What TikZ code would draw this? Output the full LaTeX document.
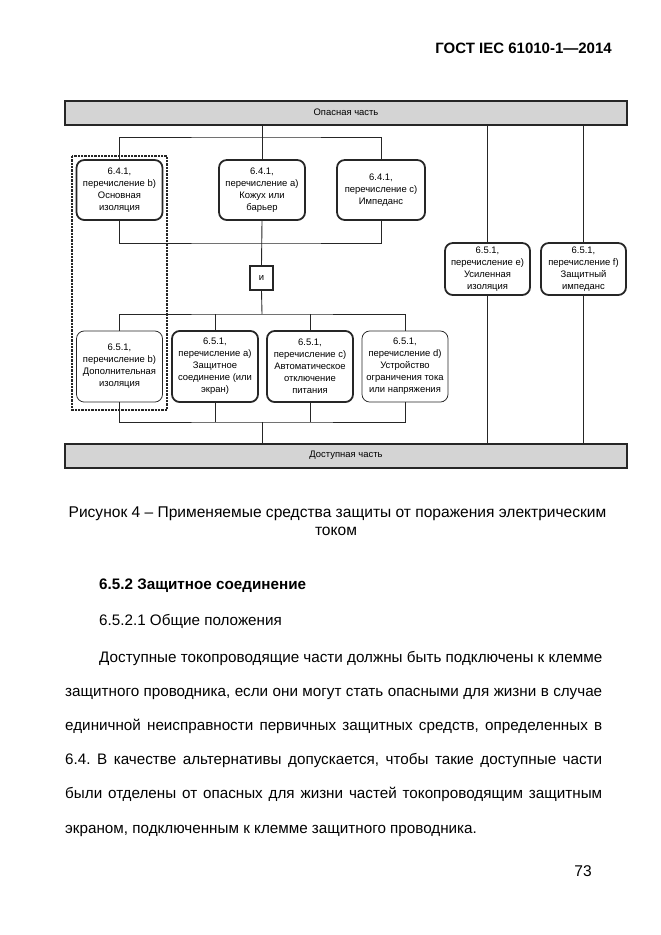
\documentclass[tikz,border=0pt]{standalone}
\usepackage{fontspec}
\setmainfont{Liberation Sans}
\usetikzlibrary{calc}
\frenchspacing

\tikzset{
  part/.style={draw=black!85, line width=1.8pt, fill=black!17, minimum width=505.8pt, minimum height=21.6pt, inner sep=0pt, font=\fontsize{8.5}{10.6}\selectfont},
  means/.style={draw=black!85, line width=1.6pt, fill=white, rounded corners=7pt, align=center, inner xsep=1pt, inner ysep=0pt, font=\fontsize{8.5}{10.8}\selectfont},
  meansthin/.style={means, line width=0.7pt},
  upper/.style={minimum width=77.4pt, minimum height=54pt},
  lower/.style={minimum width=77.4pt, minimum height=64pt},
  side/.style={minimum width=76.5pt, minimum height=46.8pt},
  wire/.style={draw=black!85, line width=0.8pt},
  groupline/.style={draw=black!85, line width=1.8pt, dash pattern=on 2pt off 1pt},
  bodyline/.style={anchor=base west, inner sep=0pt, font=\fontsize{13.7}{16}\selectfont},
}

\begin{document}
\begin{tikzpicture}[x=0.9pt, y=-0.9pt]
\useasboundingbox (0,0) rectangle (661,935);

\node[anchor=base east, inner sep=0pt, font=\fontsize{13.5}{16}\bfseries] (head) at (612,53) {ГОСТ IEC 61010-1—2014};

\node[part] (danger) at (346,112.5) {Опасная часть};
\node[part] (safe) at (346,455.5) {Доступная часть};

\draw[groupline] (72,156) rectangle (167,410);

\node[means, upper] (b641) at (119.5,190) {6.4.1,\\перечисление b)\\Основная\\изоляция};
\node[means, upper] (a641) at (262,190) {6.4.1,\\перечисление a)\\Кожух или\\барьер};
\node[means, upper, minimum width=79.2pt] (c641) at (381,190) {6.4.1,\\перечисление c)\\Импеданс};
\node[draw=black!85, line width=1.2pt, fill=white, minimum width=20.7pt, minimum height=21.6pt, inner sep=0pt, font=\fontsize{8.5}{10.6}\selectfont] (and) at (261.5,278) {и};

\node[meansthin, lower] (b651) at (119.5,366.5) {6.5.1,\\перечисление b)\\Дополнительная\\изоляция};
\node[means, lower] (a651) at (215,366.5) {6.5.1,\\перечисление a)\\Защитное\\соединение (или\\экран)};
\node[means, lower] (c651) at (310,366.5) {6.5.1,\\перечисление c)\\Автоматическое\\отключение\\питания};
\node[meansthin, lower] (d651) at (405,366.5) {6.5.1,\\перечисление d)\\Устройство\\ограничения тока\\или напряжения};

\node[means, side] (e651) at (487.5,269) {6.5.1,\\перечисление e)\\Усиленная\\изоляция};
\node[means, side] (f651) at (583.5,269) {6.5.1,\\перечисление f)\\Защитный\\импеданс};

\coordinate (hubA) at (262,137);
\coordinate (hubB) at (262,243);
\coordinate (hubC) at (262,314);
\coordinate (hubD) at (262,422);

\draw[wire] (danger.south -| a641) -- (a641.north);
\draw[wire] (b641.north) |- (hubA) -| (c641.north);
\draw[wire] (b641.south) |- (hubB) -| (c641.south);
\draw[wire] (a641.south) -- (and.north);
\draw[wire] (and.south) -- (hubC);
\draw[wire] (b651.north) |- (hubC) -| (d651.north);
\draw[wire] (a651.north) -- (a651.north |- hubC);
\draw[wire] (c651.north) -- (c651.north |- hubC);
\draw[wire] (b651.south) |- (hubD) -| (d651.south);
\draw[wire] (a651.south) -- (a651.south |- hubD);
\draw[wire] (c651.south) -- (c651.south |- hubD);
\draw[wire] (hubD) -- (safe.north -| hubD);

\draw[wire] (danger.south -| e651) -- (e651.north);
\draw[wire] (e651.south) -- (safe.north -| e651);
\draw[wire] (danger.south -| f651) -- (f651.north);
\draw[wire] (f651.south) -- (safe.north -| f651);

\node[anchor=base, inner sep=0pt, font=\fontsize{14}{16}\selectfont] (cap1) at (337.5,517) {Рисунок 4 – Применяемые средства защиты от поражения электрическим};
\node[anchor=base, inner sep=0pt, font=\fontsize{14}{16}\selectfont] (cap2) at (336,535) {током};

\node[bodyline, font=\fontsize{13.7}{16}\bfseries] (sec) at (99,589) {6.5.2 Защитное соединение};
\node[bodyline] (subsec) at (99,625) {6.5.2.1 Общие положения};

\node[bodyline] (l1) at (99,662) {\makebox[452.7pt][s]{Доступные токопроводящие части должны быть подключены к клемме}};
\node[bodyline] (l2) at (65,696.2) {\makebox[483.3pt][s]{защитного проводника, если они могут стать опасными для жизни в случае}};
\node[bodyline] (l3) at (65,730.4) {\makebox[483.3pt][s]{единичной неисправности первичных защитных средств, определенных в}};
\node[bodyline] (l4) at (65,764.6) {\makebox[483.3pt][s]{6.4. В качестве альтернативы допускается, чтобы такие доступные части}};
\node[bodyline] (l5) at (65,798.8) {\makebox[483.3pt][s]{были отделены от опасных для жизни частей токопроводящим защитным}};
\node[bodyline] (l6) at (65,833) {экраном, подключенным к клемме защитного проводника.};

\node[anchor=base east, inner sep=0pt, font=\fontsize{14}{16}\selectfont] (page) at (592,876) {73};
\end{tikzpicture}
\end{document}
